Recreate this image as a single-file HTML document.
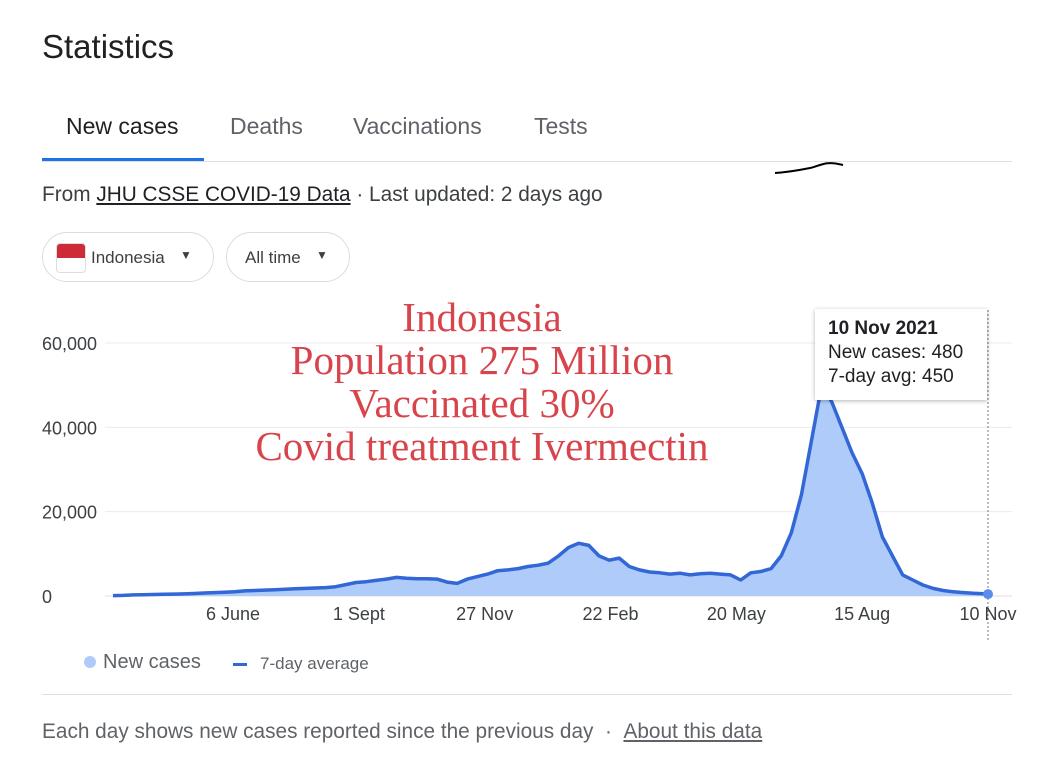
<!DOCTYPE html>
<html><head><meta charset="utf-8"><style>
body{margin:0;width:1042px;height:780px;background:#fff;font-family:"Liberation Sans",Arial,sans-serif;color:#202124;position:relative;overflow:hidden}
.a{position:absolute;white-space:nowrap}
.tab{position:absolute;top:113px;font-size:23px;color:#5f6368}
.chip{position:absolute;top:232px;height:50px;border:1px solid #dadce0;border-radius:26px;box-sizing:border-box;font-size:17px;color:#3c4043}
.red{position:absolute;left:182px;width:600px;text-align:center;font-family:"Liberation Serif",serif;font-size:41px;line-height:43px;color:#d8444b}
</style></head><body>
<div class="a" style="left:42px;top:28px;font-size:33px">Statistics</div>
<div class="tab" style="left:66px;color:#202124">New cases</div>
<div class="tab" style="left:230px">Deaths</div>
<div class="tab" style="left:353px">Vaccinations</div>
<div class="tab" style="left:534px">Tests</div>
<div class="a" style="left:42px;top:161px;width:970px;height:1px;background:#e0e0e0"></div>
<div class="a" style="left:42px;top:158px;width:162px;height:3px;background:#1a73e8"></div>
<svg class="a" style="left:770px;top:155px" width="80" height="25"><path d="M5 18 C20 17,30 15,40 13 S55 5,73 10" stroke="#000" stroke-width="2" fill="none"/></svg>
<div class="a" style="left:42px;top:183px;font-size:20.8px;color:#3c4043">From <span style="text-decoration:underline;color:#202124">JHU CSSE COVID-19 Data</span> · Last updated: 2 days ago</div>
<div class="chip" style="left:42px;width:172px">
<div style="position:absolute;left:13px;top:10px;width:28px;height:28px;border-radius:4px;overflow:hidden;border:1px solid #ddd"><div style="height:14px;background:#ce2b37"></div></div>
<span style="position:absolute;left:48px;top:15px">Indonesia</span><span style="position:absolute;left:137px;top:15px;font-size:12px">▼</span></div>
<div class="chip" style="left:226px;width:124px">
<span style="position:absolute;left:18px;top:15px">All time</span><span style="position:absolute;left:89px;top:15px;font-size:12px">▼</span></div>
<svg class="a" id="chart" style="left:0;top:290px" width="1042" height="360"></svg>
<div class="red" style="top:296px">Indonesia</div>
<div class="red" style="top:339px">Population 275 Million</div>
<div class="red" style="top:382px">Vaccinated 30%</div>
<div class="red" style="top:425px">Covid treatment Ivermectin</div>
<div class="a" style="left:815px;top:309px;width:172px;height:91px;background:#fff;box-shadow:0 1px 4px rgba(0,0,0,.3);font-size:19px;line-height:24px;padding:8px 0 0 13px;box-sizing:border-box">
<b>10 Nov 2021</b><br>New cases: 480<br>7-day avg: 450</div>
<div class="a" style="left:84px;top:651px;font-size:20px;color:#5f6368"><span style="display:inline-block;width:12px;height:12px;border-radius:6px;background:#aecbfa;margin-right:7px"></span>New cases</div>
<div class="a" style="left:233px;top:654px;font-size:17px;color:#5f6368"><span style="display:inline-block;width:14px;height:3px;background:#3367d6;vertical-align:middle;margin-right:13px"></span>7-day average</div>
<div class="a" style="left:42px;top:694px;width:970px;height:1px;background:#e0e0e0"></div>
<div class="a" style="left:42px;top:720px;font-size:20.8px;color:#5f6368">Each day shows new cases reported since the previous day &nbsp;· &nbsp;<span style="text-decoration:underline">About this data</span></div>
<script>
const yTicks=[0,20000,40000,60000];
const yTickLabels=["0","20,000","40,000","60,000"];
const xTickDays=[83,170,257,344,431,518,605];
const xTickLabels=["6 June","1 Sept","27 Nov","22 Feb","20 May","15 Aug","10 Nov"];
const weeklyAvg=[100,150,250,300,350,400,450,500,600,700,800,900,1000,1200,1300,1400,1500,1600,1700,1800,1900,2000,2200,2700,3200,3400,3700,4000,4400,4200,4100,4100,4000,3300,3000,4000,4600,5200,6000,6200,6500,7000,7300,7800,9500,11500,12500,12000,9500,8500,9000,7000,6200,5700,5500,5200,5400,5000,5300,5400,5200,5000,3800,5500,5800,6500,9500,15000,24000,37000,50000,46000,40000,34000,29000,22000,14000,9500,5000,3800,2600,1800,1300,1000,800,650,550];
const lastDay=605, lastAvg=450;
const svg=document.getElementById('chart');const NS='http://www.w3.org/2000/svg';
const X=d=>113+d*(875/605), Y=v=>306-v*(253/60000);
function mk(t,a,p){const e=document.createElementNS(NS,t);for(const k in a)e.setAttribute(k,a[k]);(p||svg).appendChild(e);return e;}
yTicks.forEach((v,i)=>{
 if(v>0){const g=mk('line',{x1:105,x2:1012,y1:Y(v),y2:Y(v),stroke:'#ebebeb'});
 
 }
 const t=mk('text',{x:42,y:Y(v)+7,'font-size':18,fill:'#3c4043'});t.textContent=yTickLabels[i];
 
 
});
mk('line',{x1:105,x2:1012,y1:Y(0),y2:Y(0),stroke:'#e0e0e0'});
xTickDays.forEach((d,i)=>{const t=mk('text',{x:X(d),y:330,'font-size':18,fill:'#3c4043','text-anchor':'middle'});t.textContent=xTickLabels[i];
 
 });
const pts=weeklyAvg.map((v,i)=>[X(i*7),Y(v)]);pts.push([X(lastDay),Y(lastAvg)]);
const ps=pts.map(p=>p[0].toFixed(1)+','+p[1].toFixed(1)).join(' ');
const area=mk('polygon',{points:X(0)+','+Y(0)+' '+ps+' '+X(lastDay)+','+Y(0),fill:'#aecbfa'});


const ln=mk('polyline',{points:ps,fill:'none',stroke:'#3367d6','stroke-width':3.5,'stroke-linejoin':'round'});


const vl=mk('line',{x1:X(lastDay),x2:X(lastDay),y1:20,y2:350,stroke:'#777','stroke-dasharray':'2,2'});


const dot=mk('circle',{cx:X(lastDay),cy:Y(lastAvg),r:5,fill:'#5b8def'});


</script>
</body></html>
